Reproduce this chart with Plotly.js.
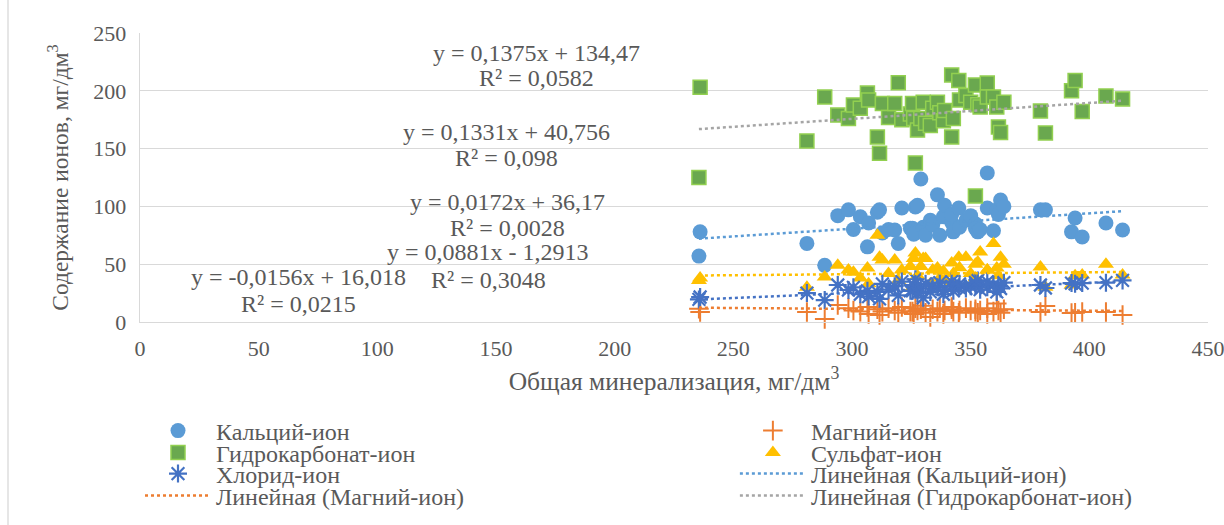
<!DOCTYPE html>
<html>
<head>
<meta charset="utf-8">
<script src="https://cdn.plot.ly/plotly-3.0.1.min.js"></script>
<style>html,body{margin:0;padding:0;background:#fff;}#chart{width:1224px;height:525px;}</style>
</head>
<body>
<div id="chart"></div>
<script>
// Total mineralization (x), mg/dm3
const mineralization = [235.5, 236, 281, 288.5, 294, 298.5, 300.6, 303.5, 306.5, 307, 310.7, 311.6, 312.8, 315.4, 318, 319.5, 321, 324.6, 325.5, 326, 326.7, 327.6, 329, 330, 331, 333, 334, 336, 337, 338.5, 339, 342, 342, 342.7, 345, 345.3, 348, 350, 352, 352, 353, 354, 357, 357, 359.6, 361, 361.7, 362.6, 364, 379.4, 381.5, 392.5, 394, 397, 407, 414];
const calcium      = [57, 78, 68, 49, 92, 97, 80, 91, 65, 85.6, 95, 97, 77, 80, 79.6, 68, 98.6, 81, 81, 76, 99.5, 101, 123.7, 82, 75, 88, 84, 110, 75, 91, 101, 86, 93, 78, 98.6, 82, 88, 92, 85, 81, 78, 80, 129, 98.6, 79, 97, 93, 105.5, 100, 97, 97, 78, 90, 73.5, 85.6, 79.6];
const magnesium    = [11.5, 8.7, 8.7, 2.6, 14.7, 12, 10, 9, 13, 7, 11, 6, 9, 12, 10, 8, 13, 9, 9, 7, 12, 10, 11, 14, 8, 4.3, 11, 9, 12, 7, 10, 11, 13, 9, 8, 10, 12, 10, 9, 11, 8, 10, 7, 12, 9, 16, 10, 8, 11, 8.7, 13.8, 7.8, 8, 8.7, 8.7, 6];
const bicarbonate  = [125, 203, 156.6, 194.6, 179, 176, 187.7, 185, 198, 192, 160, 146, 189, 177, 189, 207, 175, 180, 189, 176, 137.5, 166, 176, 190, 172, 170, 185, 190, 181, 174, 183, 213.7, 160, 176, 209, 192, 196, 190, 205, 109, 188, 186, 206.7, 194.6, 194.6, 186, 168.7, 164, 190, 182.5, 163.5, 200, 209, 182, 195.5, 193];
const sulfate      = [36, 38, 30, 39, 49, 45, 43, 38, 46.7, 33, 75, 56, 53.6, 42, 53.6, 36, 45, 48, 30, 55, 59.7, 40, 48, 55, 55, 33, 45, 46.7, 38, 44, 36, 51, 34, 42, 56, 47, 56, 42, 50, 38, 52, 60.5, 45, 45, 68, 46.7, 40, 56, 50, 47.6, 30, 32, 40, 40.7, 50, 40.7];
const chloride     = [19.5, 21.6, 25, 19, 32, 27.7, 30, 24, 27, 22, 26, 20, 33, 28, 31, 23, 35, 27, 27, 32, 37, 25, 29, 21, 33, 26, 31, 30, 34, 24, 28, 31, 35, 27, 30, 33, 29, 31, 32, 34, 36, 28, 30, 35, 32, 26, 31, 29, 34, 32, 29.4, 33.7, 33, 33.7, 34, 36];

// Series names
const seriesNames = ["Кальций-ион", "Магний-ион", "Гидрокарбонат-ион", "Сульфат-ион", "Хлорид-ион"];
// Linear trend equations as printed on the chart
const trendSlopes     = [0.1331, -0.0156, 0.1375, 0.0172, 0.0881];
const trendIntercepts = [40.756, 16.018, 134.47, 36.17, -1.2913];
const trendLabels = [
  ["y = 0,1331x + 40,756", "R² = 0,098"],
  ["y = -0,0156x + 16,018", "R² = 0,0215"],
  ["y = 0,1375x + 134,47", "R² = 0,0582"],
  ["y = 0,0172x + 36,17", "R² = 0,0028"],
  ["y = 0,0881x - 1,2913", "R² = 0,3048"]
];
const xTicks = [0, 50, 100, 150, 200, 250, 300, 350, 400, 450];
const yTicks = [0, 50, 100, 150, 200, 250];

const FONT = "'Liberation Serif', 'Times New Roman', Tinos, 'DejaVu Serif', serif";
const TXT = "#595959";
const colors = ["#5B9BD5", "#ED7D31", "#70AD47", "#FFC000", "#4472C4"];
const trendColors = ["#5B9BD5", "#ED7D31", "#A5A5A5", "#FFC000", "#4472C4"];
const ys = [calcium, magnesium, bicarbonate, sulfate, chloride];

const markers = [
  {symbol: "circle", size: 15, color: colors[0], line: {width: 0}},
  {symbol: "cross-thin-open", size: 14, color: colors[1], line: {width: 2, color: colors[1]}},
  {symbol: "square", size: 14, color: "#6AA84F", line: {width: 1.5, color: "#92D050"}},
  {symbol: "triangle-up", size: 14, color: colors[3], line: {width: 0}},
  {symbol: "asterisk-open", size: 15, color: colors[4], line: {width: 2.2, color: colors[4]}}
];
// legend slot (one small legend per entry): [column, row]
const markerSlot = [[0, 0], [1, 0], [0, 1], [1, 1], [0, 2]];
const trendSlot  = [[1, 2], [0, 3], [1, 3], null, null];
const colX = [0.0, 0.557];          // paper x of legend boxes
const rowY = [-0.3772, -0.4533, -0.526, -0.602]; // paper y centres

const legendCfg = {};
let legendCount = 0;
function legendFor(slot) {
  legendCount += 1;
  const key = legendCount === 1 ? "legend" : "legend" + legendCount;
  legendCfg[key] = {
    x: colX[slot[0]], xanchor: "left", y: rowY[slot[1]], yanchor: "middle",
    orientation: "v", itemwidth: 66,
    font: {family: FONT, size: 24, color: TXT},
    bgcolor: "rgba(0,0,0,0)", borderwidth: 0
  };
  return key;
}

const xmin = Math.min(...mineralization), xmax = Math.max(...mineralization);
const traces = [];
[0, 1, 2, 3, 4].forEach(i => {
  traces.push({
    type: "scatter", mode: "markers", name: seriesNames[i],
    x: mineralization, y: ys[i], marker: markers[i], cliponaxis: false,
    legend: legendFor(markerSlot[i])
  });
});
[0, 1, 2, 3, 4].forEach(i => {
  const xs = [xmin, xmax];
  const t = {
    type: "scatter", mode: "lines",
    name: "Линейная (" + seriesNames[i] + ")",
    x: xs, y: xs.map(v => trendSlopes[i] * v + trendIntercepts[i]),
    line: {color: trendColors[i], width: 2.5, dash: "dot"},
    showlegend: trendSlot[i] !== null
  };
  if (trendSlot[i]) t.legend = legendFor(trendSlot[i]);
  traces.push(t);
});

const annPos = [
  {x: 154.3, y: [164, 142]},
  {x: 66.8, y: [38.5, 16]},
  {x: 167, y: [232.5, 211]},
  {x: 155, y: [103.5, 81]},
  {x: 146.7, y: [60.5, 36.5]}
];
const annotations = [];
trendLabels.forEach((lines, i) => {
  lines.forEach((t, j) => {
    annotations.push({
      x: annPos[i].x, y: annPos[i].y[j], xref: "x", yref: "y",
      text: t, showarrow: false, xanchor: "center", yanchor: "middle",
      font: {family: FONT, size: 24, color: TXT}
    });
  });
});

const layout = Object.assign({
  width: 1224, height: 525,
  paper_bgcolor: "#fff", plot_bgcolor: "#fff",
  margin: {l: 140, r: 16, t: 33, b: 203, autoexpand: false},
  font: {family: FONT, color: TXT},
  showlegend: true,
  xaxis: {
    range: [0, 450], tickvals: xTicks, ticktext: xTicks.map(String),
    showgrid: false, zeroline: false, showline: true, linecolor: "#D9D9D9", linewidth: 1.3,
    ticks: "", tickfont: {family: FONT, size: 22, color: TXT},
    ticklabelstandoff: 6, ticklabeloverflow: "allow",
    title: {text: "Общая минерализация, мг/дм<sup>3</sup>", font: {family: FONT, size: 25.5, color: TXT}, standoff: 12}
  },
  yaxis: {
    range: [0, 250], tickvals: yTicks, ticktext: yTicks.map(String),
    showgrid: true, gridcolor: "#D9D9D9", gridwidth: 1.3, zeroline: false,
    showline: true, linecolor: "#D9D9D9", linewidth: 1.3,
    ticks: "", tickfont: {family: FONT, size: 22, color: TXT},
    ticklabelstandoff: 8, ticklabeloverflow: "allow",
    title: {text: "Содержание ионов, мг/дм<sup>3</sup>", font: {family: FONT, size: 23.5, color: TXT}, standoff: 18}
  },
  annotations: annotations,
  shapes: [
    {type: "line", xref: "paper", yref: "paper", x0: -0.1236, x1: -0.1236, y0: 1.114, y1: -0.7024,
     line: {color: "#D9D9D9", width: 1.3}}
  ]
}, legendCfg);

Plotly.newPlot("chart", traces, layout, {staticPlot: true, displayModeBar: false});
</script>
</body>
</html>
